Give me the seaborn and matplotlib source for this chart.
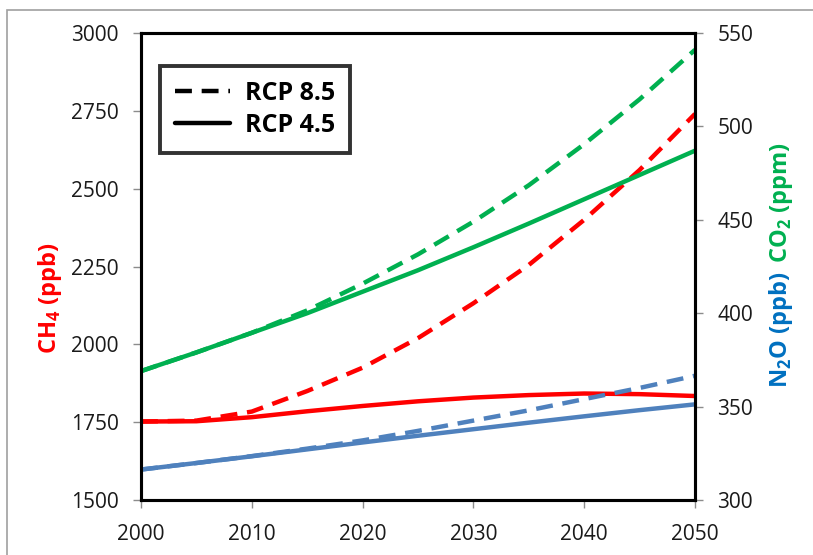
import matplotlib
matplotlib.use("Agg")
import matplotlib.pyplot as plt
from matplotlib.lines import Line2D
from matplotlib.patches import Rectangle
import seaborn as sns
import pandas as pd

# Greenhouse gas concentration pathways, 2000-2050
years = [2000, 2005, 2010, 2015, 2020, 2025, 2030, 2035, 2040, 2045, 2050]
ch4_rcp45 = [1752, 1753, 1766, 1785, 1802, 1817, 1829, 1837, 1842, 1840, 1834]
ch4_rcp85 = [1752, 1755, 1784, 1850, 1925, 2020, 2132, 2255, 2400, 2560, 2740]
n2o_rcp45 = [316.3, 319.8, 323.4, 327.1, 330.8, 334.4, 337.9, 341.4, 344.8, 348.1, 351.2]
n2o_rcp85 = [316.3, 319.8, 323.5, 327.5, 331.9, 337.0, 342.5, 348.0, 354.0, 360.0, 366.5]
co2_rcp45 = [369.0, 379.0, 389.5, 400.0, 411.5, 423.0, 435.3, 448.0, 461.0, 474.0, 487.0]
co2_rcp85 = [369.0, 379.0, 389.5, 401.5, 415.8, 431.5, 449.0, 468.5, 490.5, 514.5, 541.0]

scenarios = ["RCP 8.5", "RCP 4.5"]
x_ticks = [2000, 2010, 2020, 2030, 2040, 2050]
left_ticks = [1500, 1750, 2000, 2250, 2500, 2750, 3000]
right_ticks = [300, 350, 400, 450, 500, 550]

RED = "#FF0000"
GREEN = "#00B050"
BLUE_LINE = "#4F81BD"
BLUE_TEXT = "#0070C0"
TICK_GREY = "#8C8C8C"

sns.set_theme(style="white")
plt.rcParams["font.family"] = ["Open Sans", "DejaVu Sans"]
plt.rcParams["mathtext.fontset"] = "custom"
plt.rcParams["mathtext.rm"] = "Open Sans"
plt.rcParams["mathtext.bf"] = "Open Sans:bold"

W, H = 813, 555
fig = plt.figure(figsize=(W / 100, H / 100), dpi=100)
fig.patch.set_facecolor("white")

# outer chart-area border
fig.patches.append(Rectangle((7 / W, -0.1), 2.0, (H - 10) / H + 0.1,
                             transform=fig.transFigure, fill=False,
                             edgecolor="#A0A0A0", linewidth=1.2))

L, R, T, B = 141, 695, 33, 500
ax = fig.add_axes([L / W, (H - B) / H, (R - L) / W, (B - T) / H])
ax2 = ax.twinx()


def long_frame(values_85, values_45):
    return pd.DataFrame({
        "year": years * 2,
        "value": values_85 + values_45,
        "scenario": [scenarios[0]] * len(years) + [scenarios[1]] * len(years),
    })


dash = (3.8, 2.2)
lw = 3.2

df_ch4 = long_frame(ch4_rcp85, ch4_rcp45)
sns.lineplot(data=df_ch4, x="year", y="value", style="scenario",
             style_order=scenarios, dashes={"RCP 8.5": dash, "RCP 4.5": ""},
             color=RED, linewidth=lw, ax=ax, legend=False)

df_co2 = long_frame(co2_rcp85, co2_rcp45)
sns.lineplot(data=df_co2, x="year", y="value", style="scenario",
             style_order=scenarios, dashes={"RCP 8.5": dash, "RCP 4.5": ""},
             color=GREEN, linewidth=lw, ax=ax2, legend=False)

df_n2o = long_frame(n2o_rcp85, n2o_rcp45)
sns.lineplot(data=df_n2o, x="year", y="value", style="scenario",
             style_order=scenarios, dashes={"RCP 8.5": dash, "RCP 4.5": ""},
             color=BLUE_LINE, linewidth=lw, ax=ax2, legend=False)

for line in ax.lines + ax2.lines:
    line.set_solid_capstyle("butt")
    line.set_dash_capstyle("butt")

ax.set_xlim(2000, 2050)
ax.set_ylim(1500, 3000)
ax2.set_ylim(300, 550)
ax.set_xticks(x_ticks)
ax.set_yticks(left_ticks)
ax2.set_yticks(right_ticks)
ax.set_xticklabels([str(t) for t in x_ticks])
ax.set_yticklabels([str(t) for t in left_ticks])
ax2.set_yticklabels([str(t) for t in right_ticks])
ax.set_xlabel("")
ax.set_ylabel("")
ax2.set_ylabel("")

tick_kw = dict(direction="out", length=6, width=1.0, color=TICK_GREY,
               labelcolor="#1a1a1a", labelsize=15)
ax.tick_params(axis="x", pad=11, bottom=True, **tick_kw)
ax.tick_params(axis="y", pad=10, left=True, **tick_kw)
ax2.tick_params(axis="y", pad=10, right=True, **tick_kw)

for a in (ax, ax2):
    for sp in a.spines.values():
        sp.set_visible(True)
        sp.set_color("black")
        sp.set_linewidth(2.2)
ax.grid(False)
ax2.grid(False)

# legend for scenarios
handles = [
    Line2D([], [], color="black", linewidth=lw, dashes=dash),
    Line2D([], [], color="black", linewidth=lw),
]
leg = ax2.legend(handles, scenarios, loc="upper left",
                 bbox_to_anchor=(0.034, 0.93), borderaxespad=0,
                 frameon=True, fancybox=False, handlelength=2.2,
                 handletextpad=0.6, labelspacing=0.28, borderpad=0.6,
                 prop={"weight": "bold", "size": 18})
leg.get_frame().set_edgecolor("black")
leg.get_frame().set_linewidth(2.8)
for txt in leg.get_texts():
    txt.set_color("black")

# axis titles
fig.text(50 / W, (H - 298) / H, r"CH$_\mathbf{4}$ (ppb)", color=RED,
         rotation=90, ha="center", va="center", fontsize=17,
         fontweight="bold")

t1 = fig.text(781 / W, (H - 388) / H, r"N$_\mathbf{2}$O (ppb)", color=BLUE_TEXT,
              rotation=90, rotation_mode="anchor", ha="left", va="center",
              fontsize=17, fontweight="bold")
fig.canvas.draw()
ext = t1.get_window_extent()
fig.text(781 / W, (ext.y1 + 8) / H, r"CO$_\mathbf{2}$ (ppm)", color=GREEN,
         rotation=90, rotation_mode="anchor", ha="left", va="center",
         fontsize=17, fontweight="bold")

fig.savefig("out.png", dpi=100, facecolor="white")
